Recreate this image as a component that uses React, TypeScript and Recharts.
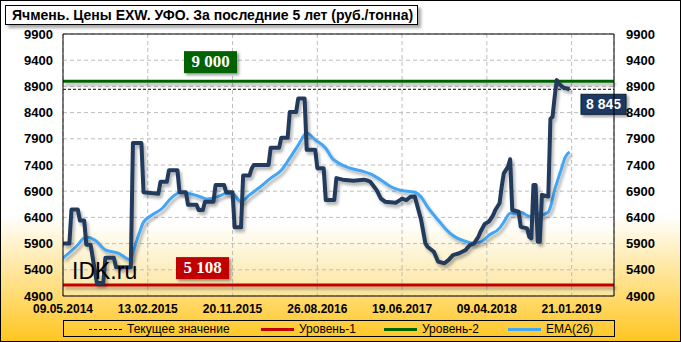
import React from 'react';
import { LineChart, Line, XAxis, YAxis, CartesianGrid, ReferenceLine } from 'recharts';

// Ячмень, EXW, УФО — weekly prices, index = week number from 09.05.2014
const X_TICKS = [0, 40, 80, 120, 160, 200, 240];
const X_LABELS = ['09.05.2014', '13.02.2015', '20.11.2015', '26.08.2016', '19.06.2017', '09.04.2018', '21.01.2019'];
const Y_TICKS = [4900, 5400, 5900, 6400, 6900, 7400, 7900, 8400, 8900, 9400, 9900];

const PRICE_WEEK = [
  0, 3, 4, 7, 8, 10, 11, 13, 16, 19, 20, 24, 25, 32, 33, 37, 38, 45, 46, 49,
  50, 54, 55, 58, 59, 63, 64, 66, 67, 71, 72, 76, 77, 80, 81, 84, 85, 88, 89, 90,
  97, 98, 102, 103, 106, 107, 110, 111, 114, 115, 119, 120, 123, 124, 128, 129, 132, 137, 142, 144,
  145, 148, 150, 152, 157, 159, 160, 162, 164, 166, 169, 171, 172, 175, 177, 180, 182, 184, 187, 190,
  192, 194, 196, 197, 199, 201, 203, 204, 206, 207, 208, 210, 211, 212, 215, 216, 219, 220, 221, 222,
  223, 224, 225, 226, 229, 230, 231, 232, 233, 234, 236, 239,
];
const PRICE_VALUE = [
  5900, 5900, 6550, 6550, 6340, 6340, 5880, 5880, 5150, 5150, 5630, 5630, 5450, 5450, 7820, 7820, 6880, 6850, 7080, 7080,
  7300, 7300, 6880, 6880, 6640, 6640, 6540, 6540, 6700, 6700, 7020, 7020, 6880, 6880, 6210, 6210, 7200, 7200, 7330, 7400,
  7400, 7730, 7730, 7920, 7920, 8410, 8410, 8670, 8670, 7690, 7690, 7340, 7340, 6730, 6730, 7150, 7120, 7100, 7120, 7100,
  7080, 6920, 6760, 6700, 6680, 6730, 6760, 6730, 6795, 6800, 6350, 5905, 5840, 5745, 5555, 5525, 5590, 5680, 5715, 5780,
  5870, 5905, 6030, 6125, 6275, 6320, 6445, 6540, 6670, 6985, 7240, 7370, 7510, 6540, 6510, 6220, 6190, 6030, 6000, 7020,
  7020, 5935, 5935, 6830, 6800, 8280, 8320, 8700, 9020, 8950, 8880, 8845,
];

const EMA_WEEK = [
  0, 6, 11, 15, 20, 26, 32, 33, 36, 38, 42, 47, 51, 56, 59, 62, 65, 68, 71, 74,
  77, 80, 84, 88, 93, 98, 103, 107, 111, 115, 119, 124, 127, 130, 135, 141, 145, 150, 155, 159,
  166, 169, 172, 177, 182, 186, 191, 193, 197, 201, 206, 208, 211, 214, 216, 218, 221, 223, 225, 229,
  230, 232, 235, 237, 239,
];
const EMA_VALUE = [
  5625, 5835, 6025, 5970, 5780, 5720, 5590, 5720, 6100, 6310, 6445, 6580, 6770, 6880, 6860, 6830, 6790, 6750, 6770, 6810,
  6860, 6850, 6700, 6830, 6980, 7150, 7300, 7530, 7780, 8010, 7880, 7720, 7530, 7440, 7345, 7285, 7230, 7115, 6980, 6920,
  6880, 6790, 6600, 6350, 6120, 6005, 5930, 5910, 5930, 6060, 6195, 6310, 6480, 6480, 6500, 6460, 6410, 6500, 6445, 6500,
  6600, 6920, 7305, 7550, 7650,
];

const LEVEL_1 = 5108;
const LEVEL_2 = 9000;
const CURRENT = 8845;

const priceData = PRICE_WEEK.map((w, k) => ({ w, v: PRICE_VALUE[k] }));
const emaData = EMA_WEEK.map((w, k) => ({ w, v: EMA_VALUE[k] }));

const fmt = (v: number) => String(v).replace(/\B(?=(\d{3})+(?!\d))/g, ' ');

const FONT = '"Liberation Sans", Arial, sans-serif';

const boxLabel = (text: string, fill: string, dx: number, dy: number, w: number, h: number,
  family: string, size: number, fromRight = false) => (props: any) => {
  const vb = props.viewBox || { x: 0, y: 0, width: 0 };
  const bx = fromRight ? vb.x + vb.width + dx : vb.x + dx;
  const by = vb.y + dy;
  return (
    <g>
      <rect x={bx} y={by} width={w} height={h} fill={fill} stroke={fromRight ? '#0d1e33' : 'none'} filter="url(#boxShadow)" />
      <text x={bx + w / 2} y={by + h / 2 + 1} textAnchor="middle" dominantBaseline="middle" fill="#fff"
        fontWeight="bold" fontFamily={family} fontSize={size}>{text}</text>
    </g>
  );
};

const tickStyle = { fill: '#000', fontSize: 13, fontWeight: 'bold', fontFamily: FONT };

const LegendItem = ({ left, color, dashed, label }: any) => (
  <div style={{ position: 'absolute', left, top: 0, height: 16, display: 'flex', alignItems: 'center' }}>
    <div style={{ width: 33, height: 0, borderTop: dashed ? `1px dashed ${color}` : `3px solid ${color}`, marginRight: 5 }} />
    <span style={{ fontSize: 12, fontFamily: FONT, color: '#000', whiteSpace: 'nowrap' }}>{label}</span>
  </div>
);

export default function App() {
  return (
    <div style={{ position: 'absolute', left: 0, top: 0, width: 681, height: 342, overflow: 'hidden',
      background: 'linear-gradient(to bottom, #ffffff 0%, #ffffff 63%, #ffc61f 100%)' }}>
      <LineChart width={681} height={342} margin={{ top: 34, right: 0, bottom: 26, left: 0 }}>
        <defs>
          <linearGradient id="plotBg" x1="0" y1="0" x2="0" y2="1">
            <stop offset="0%" stopColor="#ffffff" />
            <stop offset="72%" stopColor="#ffffff" />
            <stop offset="100%" stopColor="#fce49a" />
          </linearGradient>
          <filter id="lineShadow" filterUnits="userSpaceOnUse" x="0" y="0" width="681" height="342">
            <feDropShadow dx="2" dy="3" stdDeviation="1.5" floodColor="#000" floodOpacity="0.3" />
          </filter>
          <filter id="boxShadow" filterUnits="userSpaceOnUse" x="0" y="0" width="681" height="342">
            <feDropShadow dx="2" dy="2" stdDeviation="1.5" floodColor="#000" floodOpacity="0.4" />
          </filter>
        </defs>
        <CartesianGrid stroke="#bdbdbd" strokeDasharray="4 3" fill="url(#plotBg)" yAxisId="left" />
        <XAxis dataKey="w" type="number" domain={[0, 260]} ticks={X_TICKS} allowDataOverflow
          tickFormatter={(v: number) => X_LABELS[X_TICKS.indexOf(v)] || ''}
          tick={{ ...tickStyle, fontSize: 12 }} tickLine={false} tickSize={0} tickMargin={8}
          axisLine={{ stroke: '#000' }} height={20} />
        <YAxis yAxisId="left" domain={[4900, 9900]} ticks={Y_TICKS} allowDataOverflow
          tick={tickStyle} tickLine={false} tickSize={0} tickMargin={10} width={63}
          axisLine={{ stroke: '#000' }} />
        <YAxis yAxisId="right" orientation="right" domain={[4900, 9900]} ticks={Y_TICKS} allowDataOverflow
          tick={{ ...tickStyle, textAnchor: 'start' }} tickLine={false} tickSize={0} tickMargin={12} width={67}
          axisLine={{ stroke: '#000' }} />
        <ReferenceLine yAxisId="left" y={9900} stroke="#000" strokeWidth={1} />
        <ReferenceLine yAxisId="left" y={LEVEL_2} stroke="#006400" strokeWidth={3} filter="url(#lineShadow)"
          label={{ content: boxLabel(fmt(LEVEL_2), '#006400', 121, -30, 53, 22, '"Liberation Serif", serif', 17) }} />
        <ReferenceLine yAxisId="left" y={LEVEL_1} stroke="#c00000" strokeWidth={3} filter="url(#lineShadow)"
          label={{ content: boxLabel(fmt(LEVEL_1), '#c00000', 113, -28, 53, 22, '"Liberation Serif", serif', 17) }} />
        <ReferenceLine yAxisId="left" y={CURRENT} stroke="#000" strokeWidth={1} strokeDasharray="3 2"
          label={{ content: boxLabel(fmt(CURRENT), '#1f3864', -33, 5, 45, 20, FONT, 14, true) }} />
        <Line yAxisId="left" data={emaData} dataKey="v" type="monotone" stroke="#42a5f5" strokeWidth={3}
          dot={false} isAnimationActive={false} filter="url(#lineShadow)" />
        <Line yAxisId="left" data={priceData} dataKey="v" type="linear" stroke="#203a5c" strokeWidth={4}
          strokeLinejoin="round" dot={false} isAnimationActive={false} filter="url(#lineShadow)" />
      </LineChart>

      <div style={{ position: 'absolute', left: 72, top: 258, fontSize: 23, fontFamily: FONT, color: '#000',
        pointerEvents: 'none', lineHeight: '26px' }}>IDK.ru</div>

      <div style={{ position: 'absolute', left: 5, top: 5, width: 413, height: 20, boxSizing: 'border-box',
        border: '1px solid #000', background: '#fff', boxShadow: '3px 3px 3px rgba(0,0,0,0.35)',
        fontFamily: FONT, fontWeight: 'bold', fontSize: 14, lineHeight: '18px', paddingLeft: 6, whiteSpace: 'nowrap' }}>
        Ячмень. Цены EXW. УФО. За последние 5 лет (руб./тонна)
      </div>

      <div style={{ position: 'absolute', left: 63, top: 320, width: 552, height: 17, boxSizing: 'border-box',
        border: '1px solid #000' }}>
        <LegendItem left={25} color="#000" dashed label="Текущее значение" />
        <LegendItem left={197} color="#c00000" label="Уровень-1" />
        <LegendItem left={320} color="#006400" label="Уровень-2" />
        <LegendItem left={444} color="#42a5f5" label="EMA(26)" />
      </div>

      <div style={{ position: 'absolute', left: 0, top: 0, width: 681, height: 342, boxSizing: 'border-box',
        border: '1px solid #000', pointerEvents: 'none' }} />
    </div>
  );
}
